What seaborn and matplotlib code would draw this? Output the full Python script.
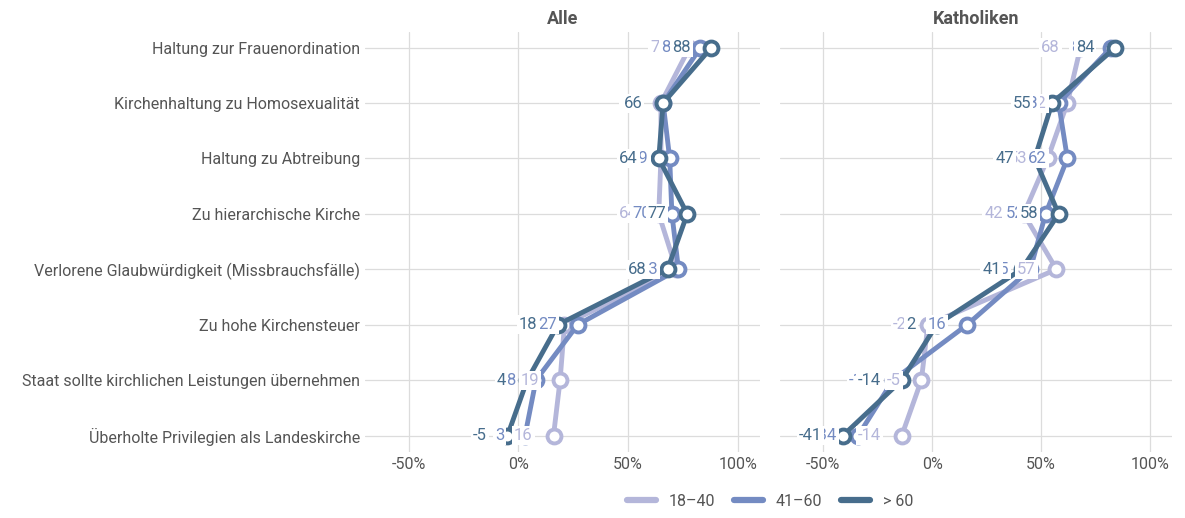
import pandas as pd
import numpy as np
import matplotlib.pyplot as plt
import seaborn as sns

# ---- data ----
items = [
    "Haltung zur Frauenordination",
    "Kirchenhaltung zu Homosexualität",
    "Haltung zu Abtreibung",
    "Zu hierarchische Kirche",
    "Verlorene Glaubwürdigkeit (Missbrauchsfälle)",
    "Zu hohe Kirchensteuer",
    "Staat sollte kirchlichen Leistungen übernehmen",
    "Überholte Privilegien als Landeskirche",
]
groups = ["18–40", "41–60", "> 60"]

alle_18_40 = [78, 65, 65, 64, 72, 21, 19, 16]
alle_41_60 = [83, 66, 69, 70, 73, 27, 8, 3]
alle_60 = [88, 66, 64, 77, 68, 18, 4, -5]

kath_18_40 = [68, 62, 53, 42, 57, -2, -5, -14]
kath_41_60 = [82, 58, 62, 52, 45, 16, -18, -34]
kath_60 = [84, 55, 47, 58, 41, 2, -14, -41]

panels = ["Alle", "Katholiken"]
colors = {"18–40": "#b4b6da", "41–60": "#748bc2", "> 60": "#476d8c"}

rows = []
for panel, series in [("Alle", [alle_18_40, alle_41_60, alle_60]),
                      ("Katholiken", [kath_18_40, kath_41_60, kath_60])]:
    for g, vals in zip(groups, series):
        for i, v in enumerate(vals):
            rows.append({"panel": panel, "group": g, "pos": i, "value": v})
df = pd.DataFrame(rows)

sns.set_theme(style="white")
plt.rcParams["font.family"] = ["Roboto", "DejaVu Sans"]

fig = plt.figure(figsize=(11.85, 5.18), dpi=100)
ax1 = fig.add_axes([0.308, 0.127, 0.333, 0.811])
ax2 = fig.add_axes([0.658, 0.127, 0.331, 0.811])

for ax, panel in zip([ax1, ax2], panels):
    sub = df[df["panel"] == panel]
    sns.lineplot(data=sub, x="value", y="pos", hue="group", hue_order=groups,
                 palette=colors, sort=False, estimator=None, ax=ax,
                 linewidth=3.5, marker="o", markersize=10,
                 markerfacecolor="white", markeredgewidth=2.8, legend=False)
    # seaborn paints marker edges white; give them the line colour
    for ln in ax.lines:
        ln.set_markeredgecolor(ln.get_color())
    # value labels left of points, on white boxes above the lines
    for k, g in enumerate(groups):
        s = sub[sub["group"] == g]
        for _, r in s.iterrows():
            ax.annotate(f"{r['value']:.0f}", (r["value"], r["pos"]),
                        xytext=(-15, 0), textcoords="offset points",
                        ha="right", va="center", fontsize=12,
                        color=colors[g], zorder=10 + k,
                        bbox=dict(boxstyle="square,pad=0.12", fc="white",
                                  ec="none"))
    ax.set_xlim(-70, 110)
    ax.set_ylim(7.3, -0.28)
    ax.set_xticks([-50, 0, 50, 100])
    ax.set_xticklabels(["-50%", "0%", "50%", "100%"])
    ax.set_yticks(range(len(items)))
    ax.set_xlabel("")
    ax.set_ylabel("")
    ax.grid(True, color="#dcdcdc", linewidth=0.9)
    ax.set_axisbelow(True)
    for sp in ax.spines.values():
        sp.set_visible(False)
    ax.tick_params(axis="both", length=0, labelsize=11.5, colors="#555555")
    ax.set_title(panel, fontsize=13, fontweight="bold", color="#555555", pad=6)

ax1.set_yticklabels(items)
ax2.set_yticklabels([])

handles = [plt.Line2D([], [], color=colors[g], linewidth=4.5) for g in groups]
fig.legend(handles, groups, loc="lower center", bbox_to_anchor=(0.65, -0.01),
           ncol=3, frameon=False, fontsize=11.5, handlelength=1.8,
           labelcolor="#555555", columnspacing=1.2)

fig.savefig("out.png", dpi=100)
